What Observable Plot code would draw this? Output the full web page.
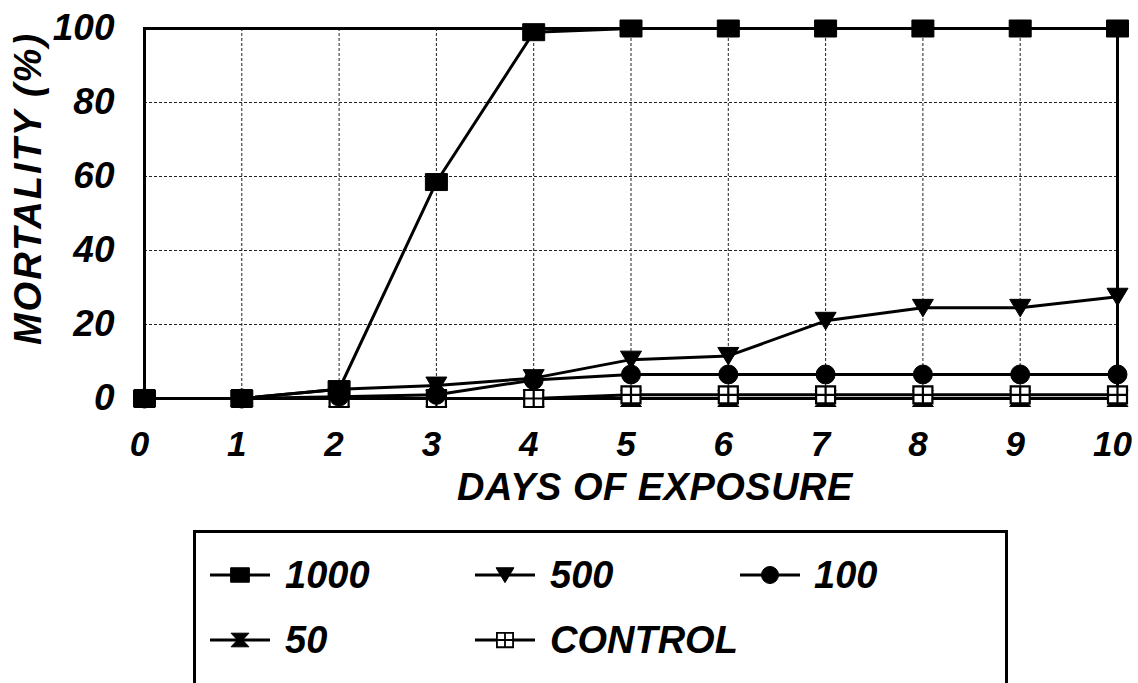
<!DOCTYPE html>
<html>
<head>
<meta charset="utf-8">
<script src="https://cdn.jsdelivr.net/npm/d3@7"></script>
<script src="https://cdn.jsdelivr.net/npm/@observablehq/plot@0.6"></script>
<style>
  body { margin: 0; background: #fff; }
  #wrap { position: relative; width: 1138px; height: 683px; overflow: hidden; background: #fff;
          font-family: "Liberation Sans", Arial, sans-serif; font-weight: bold; font-style: italic; }
  #legendBox { position: absolute; left: 193px; top: 530px; width: 809px; height: 160px;
               border: 3px solid #000; box-sizing: content-box; }
  .lg-item { position: absolute; }
  .lg-text { position: absolute; font-size: 38px; line-height: 44px; height: 44px; white-space: nowrap; color: #000; }
</style>
</head>
<body>
<div id="wrap"><div id="chart"></div><div id="legendBox"></div></div>
<script>
// ---- data ----
const days = [0, 1, 2, 3, 4, 5, 6, 7, 8, 9, 10];
const s1000 = [0, 0, 2.5, 58.5, 99, 100, 100, 100, 100, 100, 100];
const s500 = [0, 0, 2.5, 3.5, 5.5, 10.5, 11.5, 21, 24.5, 24.5, 27.5];
const s100 = [0, 0, 0.5, 1, 5, 6.5, 6.5, 6.5, 6.5, 6.5, 6.5];
const s50 = [0, 0, 0, 0, 0, 0, 0, 0, 0, 0, 0];
const sControl = [0, 0, 0, 0, 0, 1, 1, 1, 1, 1, 1];
const seriesNames = ["1000", "500", "100", "50", "CONTROL"];
const yTicks = [0, 20, 40, 60, 80, 100];
const xTicks = [0, 1, 2, 3, 4, 5, 6, 7, 8, 9, 10];
const xGrid = [1, 2, 3, 4, 5, 6, 7, 8, 9];
const yGrid = [20, 40, 60, 80];
const xTitle = "DAYS OF EXPOSURE";
const yTitle = "MORTALITY (%)";

// ---- custom symbols ----
const rad = size => Math.sqrt(size / Math.PI);
const symSquare = { draw(c, size) { const r = rad(size); c.rect(-1.1 * r, -0.85 * r, 2.2 * r, 1.7 * r); } };
const symTriDown = { draw(c, size) { const r = rad(size); c.moveTo(-1.05 * r, -0.85 * r); c.lineTo(1.05 * r, -0.85 * r); c.lineTo(0, 0.9 * r); c.closePath(); } };
const symCircle = { draw(c, size) { const r = rad(size); c.moveTo(r, 0); c.arc(0, 0, r, 0, 2 * Math.PI); } };
const symHourglass = { draw(c, size) { const r = rad(size);
  c.moveTo(-1.05 * r, -0.8 * r); c.lineTo(1.05 * r, -0.8 * r); c.lineTo(0.3 * r, 0);
  c.lineTo(1.05 * r, 0.8 * r); c.lineTo(-1.05 * r, 0.8 * r); c.lineTo(-0.3 * r, 0); c.closePath(); } };
const symGrid = { draw(c, size) { const r = rad(size);
  c.rect(-0.95 * r, -0.85 * r, 1.9 * r, 1.7 * r);
  c.moveTo(-0.95 * r, 0); c.lineTo(0.95 * r, 0);
  c.moveTo(0, -0.85 * r); c.lineTo(0, 0.85 * r); } };

const styles = {
  "1000": { symbol: symSquare, fill: "#000", stroke: "#000", sw: 1, r: 10 },
  "500": { symbol: symTriDown, fill: "#000", stroke: "#000", sw: 1, r: 10 },
  "100": { symbol: symCircle, fill: "#000", stroke: "#000", sw: 1, r: 9.5 },
  "50": { symbol: symHourglass, fill: "#000", stroke: "#000", sw: 1, r: 10 },
  "CONTROL": { symbol: symGrid, fill: "#fff", stroke: "#000", sw: 2.2, r: 10 }
};

const valuesBySeries = { "1000": s1000, "500": s500, "100": s100, "50": s50, "CONTROL": sControl };
const rows = [];
for (const s of seriesNames) days.forEach((d, i) => rows.push({ series: s, day: d, value: valuesBySeries[s][i] }));

const drawOrder = ["50", "CONTROL", "100", "500", "1000"];

const marks = [
  Plot.gridX(xGrid, { stroke: "#222", strokeOpacity: 1, strokeWidth: 1, strokeDasharray: "3,2" }),
  Plot.gridY(yGrid, { stroke: "#222", strokeOpacity: 1, strokeWidth: 1, strokeDasharray: "3,2" }),
  Plot.frame({ stroke: "#000", strokeWidth: 3 }),
  ...drawOrder.map(s => Plot.line(rows.filter(d => d.series === s), { x: "day", y: "value", stroke: "#000", strokeWidth: 3 })),
  ...drawOrder.map(s => Plot.dot(rows.filter(d => d.series === s), {
    x: "day", y: "value", symbol: styles[s].symbol, r: styles[s].r,
    fill: styles[s].fill, stroke: styles[s].stroke, strokeWidth: styles[s].sw
  })),
  Plot.axisX(xTicks, { tickSize: 0, tickPadding: 33, dx: -5, label: null, fontSize: 35, fontWeight: "bold", fontStyle: "italic", tickFormat: d => String(d) }),
  Plot.axisY(yTicks, { tickSize: 0, tickPadding: 30, label: null, fontSize: 37, fontWeight: "bold", fontStyle: "italic", tickFormat: d => String(d) }),
  Plot.text([xTitle], { text: d => d, frameAnchor: "bottom", dx: 24, dy: 89, fontSize: 38, fontWeight: "bold", fontStyle: "italic", lineAnchor: "middle", textAnchor: "middle" }),
  Plot.text([yTitle], { text: d => d, frameAnchor: "left", rotate: -90, dx: -116, dy: -25, fontSize: 38, fontWeight: "bold", fontStyle: "italic", lineAnchor: "middle", textAnchor: "middle" })
];

const svg = Plot.plot({
  width: 1138,
  height: 520,
  marginLeft: 144,
  marginRight: 21,
  marginTop: 28,
  marginBottom: 122,
  x: { domain: [0, 10], axis: null },
  y: { domain: [0, 100], axis: null },
  style: { fontFamily: "'Liberation Sans', Arial, sans-serif", fontWeight: "bold", fontStyle: "italic", color: "#000", background: "#fff", overflow: "visible" },
  marks
});
svg.querySelectorAll("text").forEach(t => {
  if (t.textContent === yTitle) t.style.letterSpacing = "2px";
  if (t.textContent === xTitle) t.style.letterSpacing = "0.5px";
});
document.getElementById("chart").appendChild(svg);

// ---- legend ----
const wrap = document.getElementById("wrap");
const legendLayout = [
  { s: "1000", lineX: 210, textX: 285, y: 575 },
  { s: "500", lineX: 475, textX: 550, y: 575 },
  { s: "100", lineX: 740, textX: 814, y: 575 },
  { s: "50", lineX: 210, textX: 285, y: 640 },
  { s: "CONTROL", lineX: 475, textX: 550, y: 640 }
];
for (const it of legendLayout) {
  const st = styles[it.s];
  const sz = Math.PI * 8.5 * 8.5;
  const p = d3.symbol(st.symbol, sz)();
  const item = document.createElement("div");
  item.className = "lg-item";
  item.style.left = it.lineX + "px";
  item.style.top = (it.y - 15) + "px";
  item.innerHTML = `<svg width="60" height="30" viewBox="0 0 60 30">
    <line x1="0" y1="15" x2="60" y2="15" stroke="#000" stroke-width="3"/>
    <path d="${p}" transform="translate(30,15)" fill="${st.fill}" stroke="${st.stroke}" stroke-width="${it.s === 'CONTROL' ? 1.8 : 1}"/></svg>`;
  wrap.appendChild(item);
  const tx = document.createElement("div");
  tx.className = "lg-text";
  tx.style.left = it.textX + "px";
  tx.style.top = (it.y - 22) + "px";
  tx.textContent = it.s;
  wrap.appendChild(tx);
}
</script>
</body>
</html>
